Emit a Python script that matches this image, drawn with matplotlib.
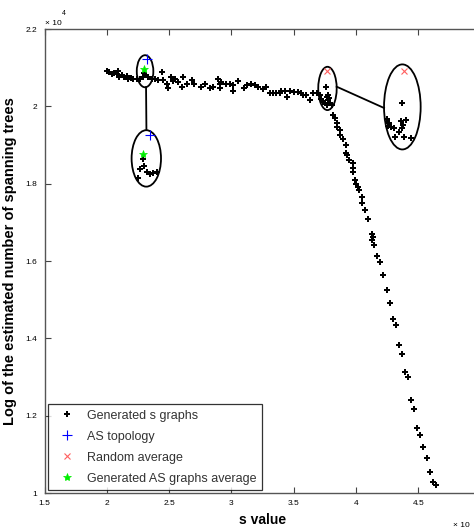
import matplotlib
matplotlib.use("Agg")
import matplotlib.pyplot as plt
from matplotlib.patches import Ellipse

plt.rcParams["font.family"] = ["Liberation Sans", "DejaVu Sans"]

# Generated s graphs (s value, log spanning trees / 1e4)
gen_s = [2.00, 2.018, 2.039, 2.058, 2.079, 2.09, 2.098, 2.12, 2.138, 2.16,
         2.17, 2.194, 2.21, 2.24, 2.266, 2.29, 2.30, 2.307, 2.33, 2.363,
         2.387, 2.41, 2.44, 2.45, 2.48, 2.49, 2.515, 2.53, 2.547, 2.571,
         2.604, 2.61, 2.64, 2.68, 2.70, 2.76, 2.79, 2.83, 2.85, 2.89,
         2.91, 2.92, 2.91, 2.96, 2.99, 3.01, 3.013, 3.05, 3.10, 3.125,
         3.16, 3.19, 3.21, 3.25, 3.28, 3.31, 3.33, 3.36, 3.39, 3.40,
         3.43, 3.45, 3.47, 3.50, 3.535, 3.56, 3.575, 3.60, 3.63, 3.655,
         3.685, 3.71, 3.76, 3.72, 3.735, 3.765, 3.775, 3.783, 3.75, 3.767,
         3.79, 3.805, 3.775, 3.815, 3.83, 3.845, 3.845, 3.87, 3.87, 3.893,
         3.92, 3.92, 3.925, 3.946, 3.973, 3.973, 3.973, 3.99, 4.00, 4.018,
         4.026, 4.046, 4.046, 4.072, 4.099, 4.126, 4.134, 4.126, 4.144, 4.171,
         4.193, 4.219, 4.246, 4.273, 4.295, 4.321, 4.348, 4.372, 4.393, 4.415,
         4.441, 4.465, 4.492, 4.514, 4.54, 4.567, 4.594, 4.62, 4.642]
gen_t = [2.092, 2.090, 2.085, 2.087, 2.083, 2.091, 2.076, 2.081, 2.077, 2.078,
         2.072, 2.074, 2.071, 2.072, 2.071, 2.077, 2.087, 2.081, 2.076, 2.072,
         2.070, 2.068, 2.090, 2.068, 2.059, 2.048, 2.077, 2.065, 2.072, 2.064,
         2.051, 2.077, 2.059, 2.068, 2.059, 2.051, 2.057, 2.047, 2.051, 2.072,
         2.059, 2.064, 2.047, 2.059, 2.058, 2.040, 2.055, 2.066, 2.047, 2.055,
         2.058, 2.055, 2.049, 2.044, 2.051, 2.035, 2.035, 2.035, 2.034, 2.040,
         2.040, 2.025, 2.040, 2.038, 2.038, 2.034, 2.029, 2.029, 2.016, 2.035,
         2.035, 2.029, 2.051, 2.018, 2.012, 2.025, 2.029, 2.021, 2.008, 2.003,
         2.009, 2.003, 2.016, 1.978, 1.969, 1.958, 1.946, 1.939, 1.926, 1.915,
         1.900, 1.880, 1.874, 1.861, 1.853, 1.840, 1.831, 1.809, 1.799, 1.792,
         1.784, 1.765, 1.749, 1.732, 1.710, 1.670, 1.661, 1.654, 1.641, 1.613,
         1.598, 1.564, 1.525, 1.491, 1.449, 1.434, 1.383, 1.359, 1.314, 1.299,
         1.240, 1.217, 1.169, 1.150, 1.118, 1.091, 1.055, 1.029, 1.021]

# zoomed-in clusters
zoom_b_s = [2.293, 2.301, 2.266, 2.32, 2.347, 2.373, 2.40, 2.253]
zoom_b_t = [1.863, 1.846, 1.837, 1.831, 1.825, 1.827, 1.831, 1.814]
zoom_d_s = [4.367, 4.251, 4.267, 4.359, 4.401, 4.380, 4.367, 4.305, 4.348,
            4.313, 4.385, 4.439, 4.255, 4.283]
zoom_d_t = [2.008, 1.967, 1.958, 1.962, 1.965, 1.952, 1.943, 1.943, 1.934,
            1.921, 1.921, 1.919, 1.949, 1.946]

as_s = [2.325, 2.343]
as_t = [2.1215, 1.925]
rand_s = [3.770, 4.385]
rand_t = [2.092, 2.092]
avg_s = [2.299, 2.293]
avg_t = [2.0957, 1.877]

# ellipses: (center s, center t, width, height)
ellipses = [(2.307, 2.091, 0.133, 0.083),
            (2.317, 1.8655, 0.236, 0.146),
            (3.771, 2.0465, 0.148, 0.112),
            (4.372, 1.9987, 0.294, 0.22)]
connectors = [([2.315, 2.318], [2.050, 1.939]),
              ([3.845, 4.225], [2.051, 1.996])]

xticks = [1.5, 2, 2.5, 3, 3.5, 4, 4.5]
xticklabels = ["1.5", "2", "2.5", "3", "3.5", "4", "4.5"]
yticks = [1, 1.2, 1.4, 1.6, 1.8, 2, 2.2]
yticklabels = ["1", "1.2", "1.4", "1.6", "1.8", "2", "2.2"]

fig = plt.figure(figsize=(4.74, 5.29), dpi=100)
ax = fig.add_axes([0.0939, 0.068, 0.92, 0.877])

ax.plot(gen_s + zoom_b_s + zoom_d_s, gen_t + zoom_b_t + zoom_d_t, "P",
        color="black", ms=3.8, mew=0, linestyle="none", label="Generated s graphs")
ax.plot(as_s, as_t, "+", color="blue", ms=7, mew=0.8, linestyle="none",
        label="AS topology")
ax.plot(rand_s, rand_t, "x", color="#ff6060", ms=4.5, mew=0.8, linestyle="none",
        label="Random average")
ax.plot(avg_s, avg_t, "*", color="#00ee00", ms=6, mew=0.5, linestyle="none",
        label="Generated AS graphs average")

for cx, cy, w, h in ellipses:
    ax.add_patch(Ellipse((cx, cy), w, h, fill=False, edgecolor="black", lw=1.3))
for xs, ys in connectors:
    ax.plot(xs, ys, color="black", lw=1.3)

ax.set_xlim(1.5, 5)
ax.set_ylim(1, 2.2)
ax.set_xticks(xticks)
ax.set_xticklabels(xticklabels)
ax.set_yticks(yticks)
ax.set_yticklabels(yticklabels)
ax.tick_params(direction="in", top=True, right=True, length=4, width=0.8,
               labelsize=6, color="#444444", pad=5)
for sp in ax.spines.values():
    sp.set_color("#555555")
    sp.set_linewidth(1.0)

ax.set_xlabel("s value", fontsize=10, fontweight="bold", labelpad=4)
ax.set_ylabel("Log of the estimated number of spanning trees", fontsize=10.5,
              fontweight="bold", labelpad=6)

fig.text(0.095, 0.952, "\u00d7 10", fontsize=6)
fig.text(0.131, 0.972, "4", fontsize=5)
fig.text(0.955, 0.004, "\u00d7 10", fontsize=6)

leg = ax.legend(loc="lower left", bbox_to_anchor=(0.009, 0.006), fontsize=9,
                frameon=True, fancybox=False, edgecolor="black",
                borderpad=0.45, labelspacing=0.72, handletextpad=0.6,
                handlelength=2.0, borderaxespad=0)
leg.get_frame().set_linewidth(0.9)
for t in leg.get_texts():
    t.set_color("#333333")

fig.savefig("out.png", dpi=100)
